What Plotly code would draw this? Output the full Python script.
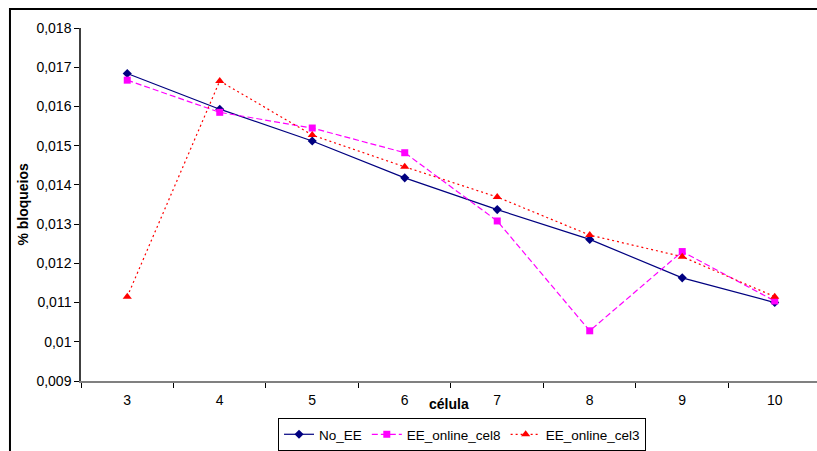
import plotly.graph_objects as go

cells = ["3", "4", "5", "6", "7", "8", "9", "10"]
no_ee = [0.01684, 0.01593, 0.01512, 0.01418, 0.01337, 0.01261, 0.01163, 0.01100]
ee_cel8 = [0.01667, 0.01585, 0.01545, 0.01482, 0.01308, 0.01028, 0.01230, 0.01104]
ee_cel3 = [0.01115, 0.01665, 0.01527, 0.01446, 0.01369, 0.01272, 0.01217, 0.01115]
y_ticks = [0.009, 0.010, 0.011, 0.012, 0.013, 0.014, 0.015, 0.016, 0.017, 0.018]
y_tick_text = ["0,009", "0,01", "0,011", "0,012", "0,013", "0,014", "0,015", "0,016", "0,017", "0,018"]

FONT = "Liberation Sans, Arial, sans-serif"

fig = go.Figure()
fig.add_trace(go.Scatter(
    x=cells, y=no_ee, name="No_EE", mode="lines+markers",
    line=dict(color="#000080", width=1.2),
    marker=dict(symbol="diamond", size=7, color="#000080"),
))
fig.add_trace(go.Scatter(
    x=cells, y=ee_cel8, name="EE_online_cel8", mode="lines+markers",
    line=dict(color="#FF00FF", width=1.2, dash="6px,3px"),
    marker=dict(symbol="square", size=7, color="#FF00FF"),
))
fig.add_trace(go.Scatter(
    x=cells, y=ee_cel3, name="EE_online_cel3", mode="lines+markers",
    line=dict(color="#FF0000", width=1.2, dash="2px,3px"),
    marker=dict(symbol="triangle-up", size=8, color="#FF0000"),
))

fig.update_layout(
    width=817, height=451,
    margin=dict(l=81, r=0, t=28, b=70),
    paper_bgcolor="white", plot_bgcolor="white",
    font=dict(family=FONT, size=14, color="black"),
    showlegend=True,
    legend=dict(
        orientation="h", x=0.5177, xanchor="center", y=-0.105, yanchor="top",
        bordercolor="black", borderwidth=1, bgcolor="white",
        font=dict(family=FONT, size=13.5, color="black"),
        itemwidth=30, tracegroupgap=0,
    ),
    xaxis=dict(
        type="category", range=[-0.5, 7.457],
        showline=True, linecolor="#808080", linewidth=2,
        ticks="outside", ticklen=5, tickcolor="black", tickwidth=1,
        tickson="boundaries", showgrid=False, zeroline=False,
        ticklabelstandoff=5,
        tickfont=dict(family=FONT, size=14, color="black"),
    ),
    yaxis=dict(
        range=[0.009, 0.018], tickvals=y_ticks, ticktext=y_tick_text,
        showline=True, linecolor="#404040", linewidth=1.5,
        ticks="outside", ticklen=5, tickcolor="black", tickwidth=1,
        showgrid=False, zeroline=False,
        tickfont=dict(family=FONT, size=14, color="black"),
    ),
    annotations=[
        dict(text="<b>% bloqueios</b>", xref="paper", yref="paper",
             x=-0.080, y=0.5, textangle=-90, showarrow=False,
             xanchor="center", yanchor="middle",
             font=dict(family=FONT, size=14, color="black")),
        dict(text="<b>célula</b>", xref="paper", yref="paper",
             x=0.5, y=-0.065, showarrow=False,
             xanchor="center", yanchor="middle",
             font=dict(family=FONT, size=14, color="black")),
    ],
    shapes=[
        dict(type="rect", xref="paper", yref="paper",
             x0=-0.0965, x1=1.2, y0=-0.4, y1=1.0538,
             line=dict(color="black", width=2), layer="below"),
    ],
)

fig.write_html("out.html")
